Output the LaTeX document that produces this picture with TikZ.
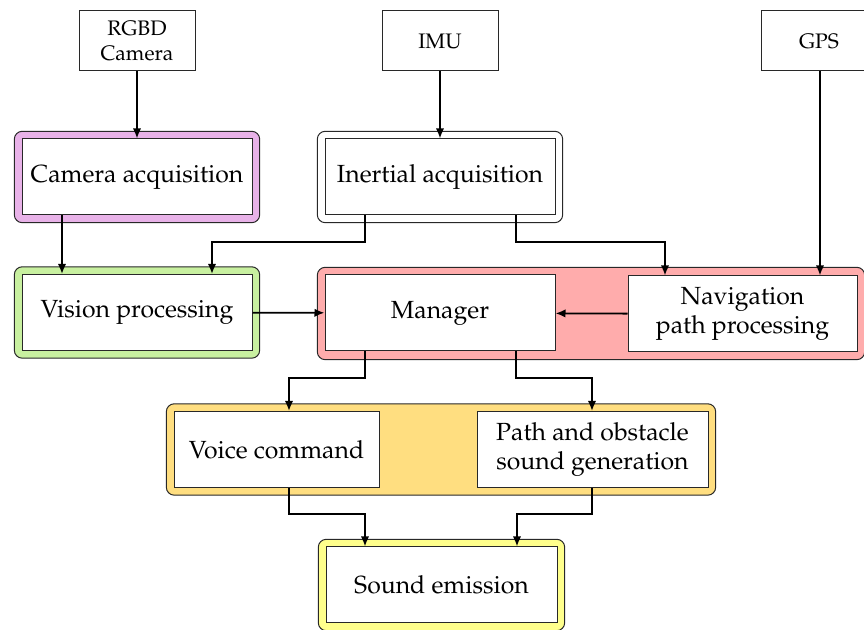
\documentclass[tikz,border=0pt]{standalone}
\usepackage[T1]{fontenc}
\usepackage{mathpazo}
\usetikzlibrary{arrows.meta,fit,backgrounds}
\definecolor{cpurple}{RGB}{232,178,232}
\definecolor{cgreen}{RGB}{200,240,160}
\definecolor{cred}{RGB}{255,172,172}
\definecolor{corange}{RGB}{255,222,128}
\definecolor{cyellow}{RGB}{255,255,140}
\definecolor{cborder}{RGB}{40,40,40}
\tikzset{
  src/.style={draw=cborder, line width=0.5pt, fill=white, minimum width=58pt, minimum height=30pt, inner sep=0pt, align=center, font=\fontsize{10.5}{12.5}\selectfont},
  blk/.style={draw=cborder, line width=0.5pt, fill=white, minimum height=38pt, inner sep=0pt, align=center, font=\fontsize{12.4}{14.5}\selectfont},
  grp/.style={draw=cborder, line width=0.5pt, rounded corners=4pt, inner sep=3.6pt},
  arr/.style={line width=0.9pt, -{Latex[length=5pt,width=4.2pt]}}
}
\begin{document}
\begin{tikzpicture}[x=0.5pt,y=-0.5pt]
\useasboundingbox (0,0) rectangle (864,630);
% sources
\node[src] (rgbd) at (137,41) {RGBD\\Camera};
\node[src] (imu) at (440,41) {IMU};
\node[src] (gps) at (819,41) {GPS};
% blocks
\node[blk, minimum width=115pt] (camacq) at (137,177) {Camera acquisition};
\node[blk, minimum width=115pt] (inertial) at (440,177) {Inertial acquisition};
\node[blk, minimum width=115pt] (vision) at (137,312.5) {Vision processing};
\node[blk, minimum width=115pt] (manager) at (440,313) {Manager};
\node[blk, minimum width=114.5pt] (nav) at (742.5,314) {Navigation\\path processing};
\node[blk, minimum width=102.5pt] (voice) at (276.5,449.5) {Voice command};
\node[blk, minimum width=115.5pt] (path) at (592.5,449.5) {Path and obstacle\\sound generation};
\node[blk, minimum width=115.5pt] (sound) at (441.5,585) {Sound emission};
% groups
\begin{scope}[on background layer]
\node[grp, fill=cpurple, fit=(camacq)] (gcam) {};
\node[grp, fill=white, fit=(inertial)] (gin) {};
\node[grp, fill=cgreen, fit=(vision)] (gvis) {};
\node[grp, fill=cred, fit=(manager)(nav)] (gman) {};
\node[grp, fill=corange, fit=(voice)(path)] (gsnd) {};
\node[grp, fill=cyellow, fit=(sound)] (gemi) {};
\end{scope}
% helper coordinates
\coordinate (xA) at (62,0);
\coordinate (xB) at (212,0);
\coordinate (xC) at (365,0);
\coordinate (xD) at (516,0);
\coordinate (xE) at (665,0);
\coordinate (xF) at (820,0);
\coordinate (xG) at (289,0);
\coordinate (xH) at (592,0);
\coordinate (xI) at (517,0);
\coordinate (yA) at (0,242);
\coordinate (yB) at (0,378);
\coordinate (yC) at (0,514);
% connectors
\draw[arr] (rgbd) -- (camacq);
\draw[arr] (imu) -- (inertial);
\draw[arr] (gps.south -| xF) -- (nav.north -| xF);
\draw[arr] (camacq.south -| xA) -- (vision.north -| xA);
\draw[arr] (inertial.south -| xC) |- (yA -| xB) -- (vision.north -| xB);
\draw[arr] (inertial.south -| xD) |- (yA -| xE) -- (nav.north -| xE);
\draw[arr] (vision) -- (manager);
\draw[arr] (nav) -- (manager);
\draw[arr] (manager.south -| xC) |- (yB -| xG) -- (voice.north -| xG);
\draw[arr] (manager.south -| xD) |- (yB -| xH) -- (path.north -| xH);
\draw[arr] (voice.south -| xG) |- (yC -| xC) -- (sound.north -| xC);
\draw[arr] (path.south -| xH) |- (yC -| xI) -- (sound.north -| xI);
\end{tikzpicture}
\end{document}
